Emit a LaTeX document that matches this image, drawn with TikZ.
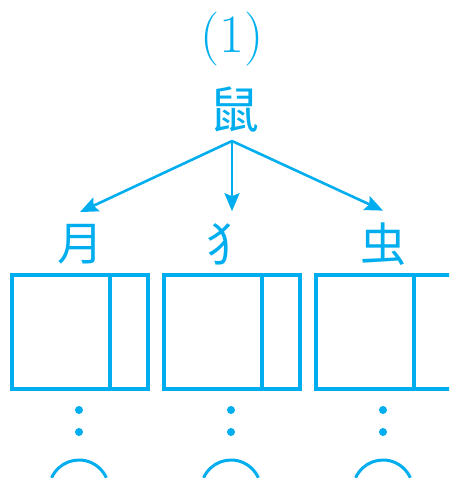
\documentclass[tikz,border=0pt]{standalone}
\usepackage{fontspec}
\newfontfamily\cjk{Noto Sans CJK SC}
\usepackage{tikz}
\usetikzlibrary{arrows.meta,positioning,calc}
\definecolor{zicyan}{RGB}{0,174,239}

\begin{document}
\begin{tikzpicture}[x=1pt,y=-1pt,
  zi/.style={inner sep=0pt,outer ysep=12pt,text=zicyan,font=\cjk\fontsize{46}{50}\selectfont},
  kuang/.style={draw=zicyan,line width=3.4pt},
  jian/.style={-{Stealth[length=18pt,width=15pt,inset=3pt]},draw=zicyan,line width=2.6pt}]
  \clip (0,0) rectangle (449,478);

  \node[text=zicyan,font=\fontsize{54}{60}\selectfont] (hao) at (232,39) {(1)};
  \node[zi,outer ysep=0pt,font=\cjk\fontsize{50}{56}\selectfont] (shu) at (234,110) {鼠};
  \node[zi] (yue) at (80,244) {月};
  \node[zi] (quan) at (229,244) {犭};
  \node[zi] (chong) at (383,244) {虫};

  \coordinate (fen) at (232,141);
  \draw[jian] (fen) -- (yue.north);
  \draw[jian] (fen) -- (fen |- quan.north);
  \draw[jian] (fen) -- (chong.north);

  % three boxes with dots and an arc below
  \foreach \x in {12,164,316} {
    \draw[kuang] (\x,275) rectangle (\x+136,389);
    \draw[kuang] (\x+98,275) -- (\x+98,389);
    \fill[zicyan] (\x+67,410) circle (4);
    \fill[zicyan] (\x+67,432) circle (4);
    \draw[zicyan,line width=3pt] ($(\x+67,490)+(204:30)$) arc (204:336:30);
  }
\end{tikzpicture}
\end{document}
